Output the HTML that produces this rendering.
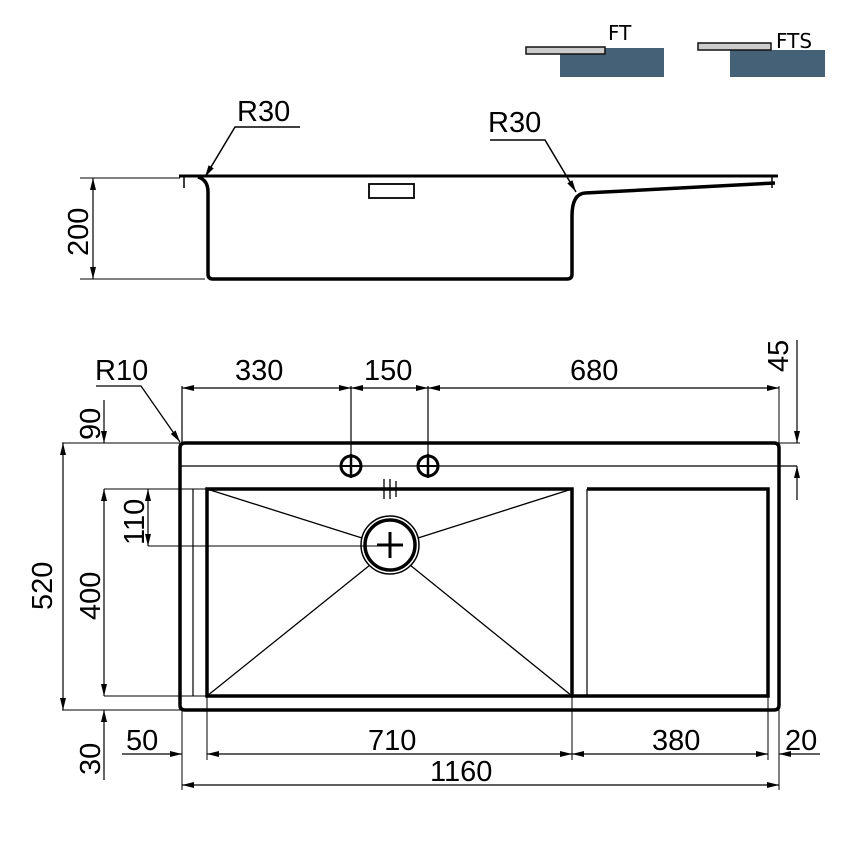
<!DOCTYPE html>
<html><head><meta charset="utf-8"><style>
html,body{margin:0;padding:0;background:#fff;}
svg{display:block;}
text{font-family:"Liberation Sans",sans-serif;font-size:29px;fill:#000;}
</style></head><body>
<svg width="850" height="850" viewBox="0 0 850 850" xmlns="http://www.w3.org/2000/svg">
<defs>
<marker id="a" viewBox="0 0 12 6" refX="12" refY="3" markerWidth="12" markerHeight="6" orient="auto-start-reverse" markerUnits="userSpaceOnUse"><path d="M0,0 L12,3 L0,6 z" fill="#000"/></marker>
</defs>
<!-- FT / FTS icons -->
<rect x="560" y="48" width="104" height="29" fill="#446177"/>
<rect x="526" y="47" width="79" height="7" fill="#ccc" stroke="#111" stroke-width="1.5"/>
<text x="608" y="40" style="font-size:20px;font-family:'DejaVu Sans',sans-serif">FT</text>
<rect x="730" y="50" width="95" height="27" fill="#446177"/>
<rect x="698" y="43" width="73" height="7" fill="#ccc" stroke="#111" stroke-width="1.5"/>
<text x="776" y="48" style="font-size:20px;font-family:'DejaVu Sans',sans-serif">FTS</text>

<g stroke="#000" fill="none">
<!-- side view -->
<line x1="179" y1="176" x2="778" y2="176" stroke-width="3"/>
<line x1="184" y1="176" x2="184" y2="188" stroke-width="1.5"/>
<line x1="772" y1="176" x2="772" y2="188" stroke-width="1.5"/>
<path d="M198,177 Q208,180 208,192 L208,274 Q208,279 213,279 L567,279 Q572,279 572,274 L572,216 Q572,194 585,193 L775,183" stroke-width="3.5"/>
<rect x="369" y="184" width="45" height="14" stroke-width="1.8"/>
<line x1="80" y1="178" x2="180" y2="178" stroke-width="1"/>
<line x1="80" y1="279" x2="205" y2="279" stroke-width="1"/>
<line x1="93" y1="178" x2="93" y2="279" stroke-width="1.2" marker-start="url(#a)" marker-end="url(#a)"/>
<polyline points="300,127 235,127 205,177" stroke-width="1.5" marker-end="url(#a)"/>
<polyline points="490,140 545,140 576,192" stroke-width="1.5" marker-end="url(#a)"/>

<!-- top view -->
<path d="M180,448 Q180,443 185,443 L774,443 Q779,443 779,448 L779,705 Q779,710 774,710 L185,710 Q180,710 180,705 Z" stroke-width="3.5"/>
<line x1="180" y1="466" x2="797" y2="466" stroke-width="1.2"/>
<line x1="193" y1="489" x2="193" y2="696" stroke-width="1.2"/>
<line x1="587" y1="489" x2="587" y2="696" stroke-width="1.2"/>
<rect x="207" y="489" width="365" height="207" stroke-width="3.5"/>
<polyline points="587,489 768,489 768,696 572,696" stroke-width="3.5"/>
<line x1="572" y1="696" x2="572" y2="760" stroke-width="1"/>
<line x1="207" y1="696" x2="207" y2="760" stroke-width="1"/>
<!-- diagonals -->
<line x1="207" y1="489" x2="362" y2="538" stroke-width="1.3"/>
<line x1="572" y1="489" x2="418" y2="538" stroke-width="1.3"/>
<line x1="207" y1="696" x2="370" y2="565" stroke-width="1.3"/>
<line x1="572" y1="696" x2="410" y2="565" stroke-width="1.3"/>
<!-- drain -->
<circle cx="390" cy="545" r="29" stroke-width="1.5" fill="#fff"/>
<circle cx="390" cy="545" r="25" stroke-width="3.5"/>
<line x1="377" y1="545" x2="403" y2="545" stroke-width="3"/>
<line x1="390" y1="532" x2="390" y2="558" stroke-width="3"/>
<!-- mark -->
<line x1="384" y1="479" x2="384" y2="499" stroke-width="1.3"/>
<line x1="390" y1="479" x2="390" y2="499" stroke-width="1.3"/>
<line x1="396" y1="481" x2="396" y2="497" stroke-width="1.3"/>
<!-- tap holes -->
<circle cx="351" cy="466" r="10" stroke-width="3"/>
<line x1="341" y1="466" x2="361" y2="466" stroke-width="2"/>
<line x1="351" y1="454" x2="351" y2="478" stroke-width="2.5"/>
<circle cx="428" cy="466" r="10" stroke-width="3"/>
<line x1="418" y1="466" x2="438" y2="466" stroke-width="2"/>
<line x1="428" y1="454" x2="428" y2="478" stroke-width="2.5"/>
<!-- top dims -->
<line x1="182" y1="443" x2="182" y2="386" stroke-width="1.2"/>
<line x1="351" y1="456" x2="351" y2="386" stroke-width="1.2"/>
<line x1="428" y1="456" x2="428" y2="386" stroke-width="1.2"/>
<line x1="779" y1="443" x2="779" y2="386" stroke-width="1"/>
<line x1="182" y1="388" x2="351" y2="388" stroke-width="1.2" marker-start="url(#a)" marker-end="url(#a)"/>
<line x1="351" y1="388" x2="428" y2="388" stroke-width="1.2" marker-start="url(#a)" marker-end="url(#a)"/>
<line x1="428" y1="388" x2="779" y2="388" stroke-width="1.2" marker-start="url(#a)" marker-end="url(#a)"/>
<!-- 45 -->
<line x1="779" y1="443" x2="800" y2="443" stroke-width="1"/>
<line x1="797" y1="340" x2="797" y2="443" stroke-width="1.2" marker-end="url(#a)"/>
<line x1="797" y1="500" x2="797" y2="466" stroke-width="1.2" marker-end="url(#a)"/>
<!-- R10 -->
<polyline points="96,386 141,386 180,442" stroke-width="1.3" marker-end="url(#a)"/>
<!-- left dims -->
<line x1="62" y1="443" x2="180" y2="443" stroke-width="1"/>
<line x1="62" y1="710" x2="180" y2="710" stroke-width="1"/>
<line x1="104" y1="489" x2="207" y2="489" stroke-width="1"/>
<line x1="104" y1="696" x2="207" y2="696" stroke-width="1"/>
<line x1="148" y1="546" x2="390" y2="546" stroke-width="1"/>
<line x1="104" y1="400" x2="104" y2="443" stroke-width="1.2" marker-end="url(#a)"/>
<line x1="63" y1="443" x2="63" y2="710" stroke-width="1.2" marker-start="url(#a)" marker-end="url(#a)"/>
<line x1="104" y1="489" x2="104" y2="696" stroke-width="1.2" marker-start="url(#a)" marker-end="url(#a)"/>
<line x1="148" y1="489" x2="148" y2="546" stroke-width="1.2" marker-start="url(#a)" marker-end="url(#a)"/>
<line x1="104" y1="780" x2="104" y2="710" stroke-width="1.2" marker-end="url(#a)"/>
<!-- bottom dims -->
<line x1="182" y1="710" x2="182" y2="790" stroke-width="1"/>
<line x1="768" y1="696" x2="768" y2="760" stroke-width="1"/>
<line x1="779" y1="710" x2="779" y2="790" stroke-width="1"/>
<line x1="122" y1="754" x2="182" y2="754" stroke-width="1.2" marker-end="url(#a)"/>
<line x1="207" y1="754" x2="572" y2="754" stroke-width="1.2" marker-start="url(#a)" marker-end="url(#a)"/>
<line x1="572" y1="754" x2="768" y2="754" stroke-width="1.2" marker-start="url(#a)" marker-end="url(#a)"/>
<line x1="820" y1="754" x2="779" y2="754" stroke-width="1.2" marker-end="url(#a)"/>
<line x1="182" y1="785" x2="779" y2="785" stroke-width="1.2" marker-start="url(#a)" marker-end="url(#a)"/>
</g>

<!-- labels -->
<text x="237" y="121">R30</text>
<text x="488" y="132">R30</text>
<text x="95" y="380">R10</text>
<text x="235" y="380">330</text>
<text x="364" y="380">150</text>
<text x="570" y="380">680</text>
<text x="368" y="750">710</text>
<text x="652" y="750">380</text>
<text x="126" y="750">50</text>
<text x="785" y="750">20</text>
<text x="430" y="781">1160</text>
<g>
<text transform="translate(88,256) rotate(-90)">200</text>
<text transform="translate(788,372) rotate(-90)">45</text>
<text transform="translate(100,440) rotate(-90)">90</text>
<text transform="translate(52,610) rotate(-90)">520</text>
<text transform="translate(100,620) rotate(-90)">400</text>
<text transform="translate(144,545) rotate(-90)">110</text>
<text transform="translate(100,775) rotate(-90)">30</text>
</g>
</svg>
</body></html>
